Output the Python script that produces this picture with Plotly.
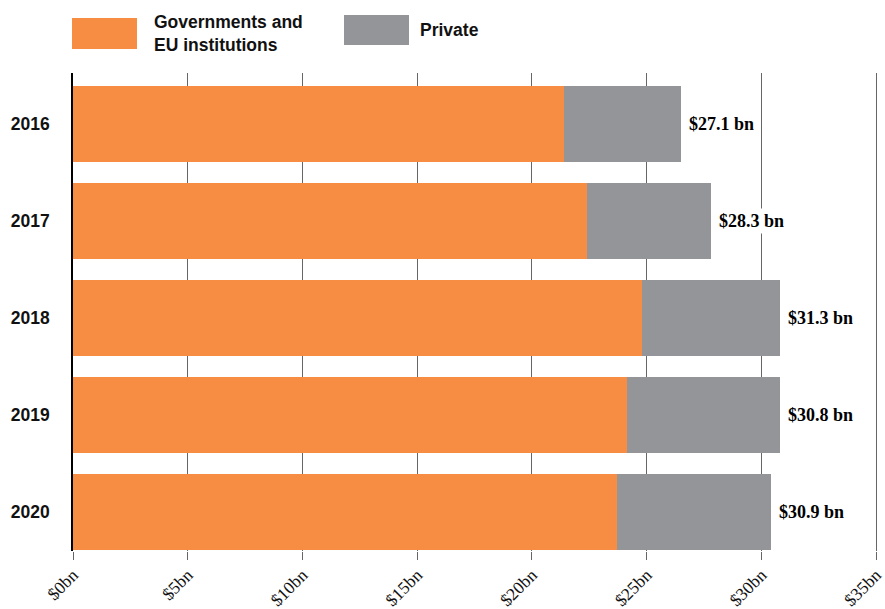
import plotly.graph_objects as go

years = ["2016", "2017", "2018", "2019", "2020"]
governments = [21.4, 22.4, 24.8, 24.15, 23.7]
private = [5.1, 5.4, 6.0, 6.65, 6.7]
total_labels = ["$27.1 bn", "$28.3 bn", "$31.3 bn", "$30.8 bn", "$30.9 bn"]
tick_vals = [0, 5, 10, 15, 20, 25, 30, 35]
tick_text = ["$0bn", "$5bn", "$10bn", "$15bn", "$20bn", "$25bn", "$30bn", "$35bn"]

ORANGE = "#F68D43"
GREY = "#939598"

W, H = 885, 609
L, R, T, B = 73, 2, 73, 58
PW, PH = W - L - R, H - T - B
XMAX = 35.3

fig = go.Figure()
fig.add_trace(go.Bar(y=years, x=governments, orientation="h", marker=dict(color=ORANGE, line=dict(width=0)),
                     name="Governments and EU institutions", hoverinfo="skip"))
fig.add_trace(go.Bar(y=years, x=private, orientation="h", marker=dict(color=GREY, line=dict(width=0)),
                     name="Private", hoverinfo="skip"))

for i, (g, p, lab) in enumerate(zip(governments, private, total_labels)):
    fig.add_annotation(x=g + p, y=i, text=lab, xref="x", yref="y", xanchor="left", yanchor="middle",
                       xshift=5, showarrow=False, bgcolor="white", borderpad=2,
                       font=dict(family="Liberation Serif", size=18, color="#000", weight=600))

# manual legend (pixel positions converted to paper coords)
def px(x): return (x - L) / PW
def py(y): return 1 - (y - T) / PH
fig.add_shape(type="rect", xref="paper", yref="paper", x0=px(72), x1=px(137), y0=py(49), y1=py(18),
              fillcolor=ORANGE, line=dict(width=0))
fig.add_shape(type="rect", xref="paper", yref="paper", x0=px(344), x1=px(409), y0=py(45), y1=py(15),
              fillcolor=GREY, line=dict(width=0))
fig.add_annotation(xref="paper", yref="paper", x=px(152), y=py(33), text="Governments and<br>EU institutions",
                   showarrow=False, xanchor="left", yanchor="middle", align="left",
                   font=dict(family="Liberation Sans", size=17.5, color="#111", weight="bold"))
fig.add_annotation(xref="paper", yref="paper", x=px(418), y=py(30), text="Private",
                   showarrow=False, xanchor="left", yanchor="middle", align="left",
                   font=dict(family="Liberation Sans", size=17.5, color="#111", weight="bold"))

fig.update_layout(
    width=W, height=H,
    margin=dict(l=L, r=R, t=T, b=B),
    barmode="stack", bargap=0.215,
    showlegend=False,
    plot_bgcolor="white", paper_bgcolor="white",
    xaxis=dict(range=[0, XMAX], tickvals=tick_vals, ticktext=tick_text, tickangle=-45,
               showgrid=True, gridcolor="#666", gridwidth=1, zeroline=False, automargin=False,
               ticks="outside", ticklen=8, tickcolor="#666", tickwidth=1, ticklabelstandoff=-2,
               ticklabeloverflow="allow",
               tickfont=dict(family="Liberation Serif", size=17.5, color="#111"), showline=False),
    yaxis=dict(type="category", categoryorder="array", categoryarray=years, automargin=False,
               range=[4.402, -0.526], showgrid=False, zeroline=False,
               showline=True, linecolor="black", linewidth=1.5, ticks="", ticklabelstandoff=18,
               tickfont=dict(family="Liberation Sans", size=17.5, color="#111", weight="bold")),
)

fig.write_html("out.html")
